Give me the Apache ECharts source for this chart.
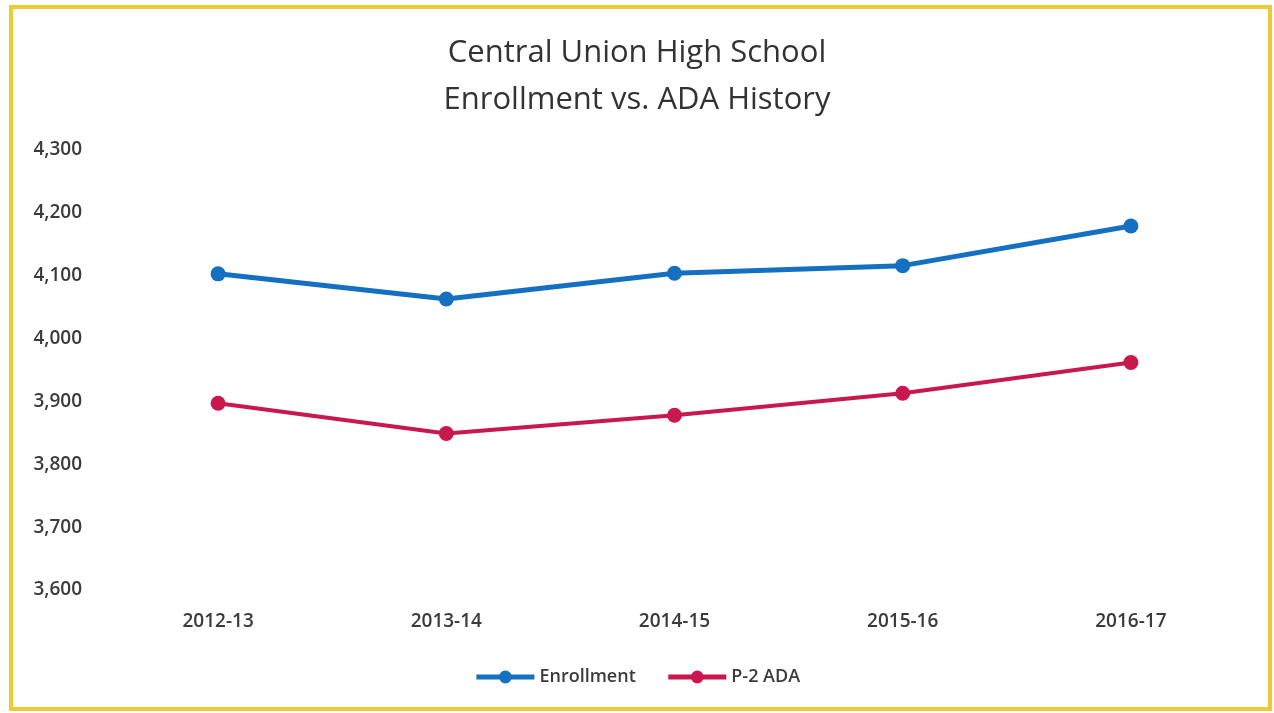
<!DOCTYPE html>
<html>
<head>
<meta charset="utf-8">
<script src="https://cdn.jsdelivr.net/npm/echarts@6/dist/echarts.min.js"></script>
<style>
  html, body { margin: 0; padding: 0; background: #fff; }
  #chart { width: 1274px; height: 713px; }
</style>
</head>
<body>
<div id="chart"></div>
<script>
// categories and values
const years = ['2012-13', '2013-14', '2014-15', '2015-16', '2016-17'];
const enrollment = [4103, 4063, 4104, 4116, 4179];
const p2Ada = [3897, 3849, 3878, 3913, 3962];

const chart = echarts.init(document.getElementById('chart'));
const font = '"Open Sans", "Liberation Sans", sans-serif';

chart.setOption({
  animation: false,
  backgroundColor: '#fff',
  // yellow frame round the chart
  graphic: [{
    type: 'rect',
    shape: { x: 11, y: 7, width: 1259, height: 702 },
    style: { fill: 'none', stroke: '#ecc935', lineWidth: 4 }
  }],
  title: {
    text: 'Central Union High School\nEnrollment vs. ADA History',
    left: 'center',
    top: 25,
    textStyle: {
      fontFamily: font,
      fontSize: 31,
      fontWeight: 'normal',
      color: '#333',
      lineHeight: 47
    }
  },
  legend: {
    bottom: 22,
    left: 'center',
    itemWidth: 58,
    itemHeight: 16,
    itemGap: 30,
    lineStyle: { width: 5 },
    textStyle: { fontFamily: font, fontSize: 18, fontWeight: 600, color: '#3b3b3b' },
    data: ['Enrollment', 'P-2 ADA']
  },
  grid: { left: 104, right: 29, top: 150, bottom: 123 },
  xAxis: {
    type: 'category',
    data: years,
    boundaryGap: true,
    axisLine: { show: false },
    axisTick: { show: false },
    axisLabel: {
      margin: 22,
      fontFamily: font,
      fontSize: 19,
      fontWeight: 600,
      color: '#3b3b3b'
    }
  },
  yAxis: {
    type: 'value',
    min: 3600,
    max: 4300,
    interval: 100,
    splitLine: { show: false },
    axisLine: { show: false },
    axisTick: { show: false },
    axisLabel: {
      margin: 22,
      fontFamily: font,
      fontSize: 19,
      fontWeight: 600,
      color: '#3b3b3b',
      formatter: v => v.toLocaleString('en-US')
    }
  },
  series: [
    {
      name: 'Enrollment',
      type: 'line',
      data: enrollment,
      symbol: 'circle',
      symbolSize: 15,
      lineStyle: { width: 5, color: '#1570c2' },
      itemStyle: { color: '#1570c2' }
    },
    {
      name: 'P-2 ADA',
      type: 'line',
      data: p2Ada,
      symbol: 'circle',
      symbolSize: 15,
      lineStyle: { width: 4, color: '#c8184e' },
      itemStyle: { color: '#c8184e' }
    }
  ]
});
</script>
</body>
</html>
